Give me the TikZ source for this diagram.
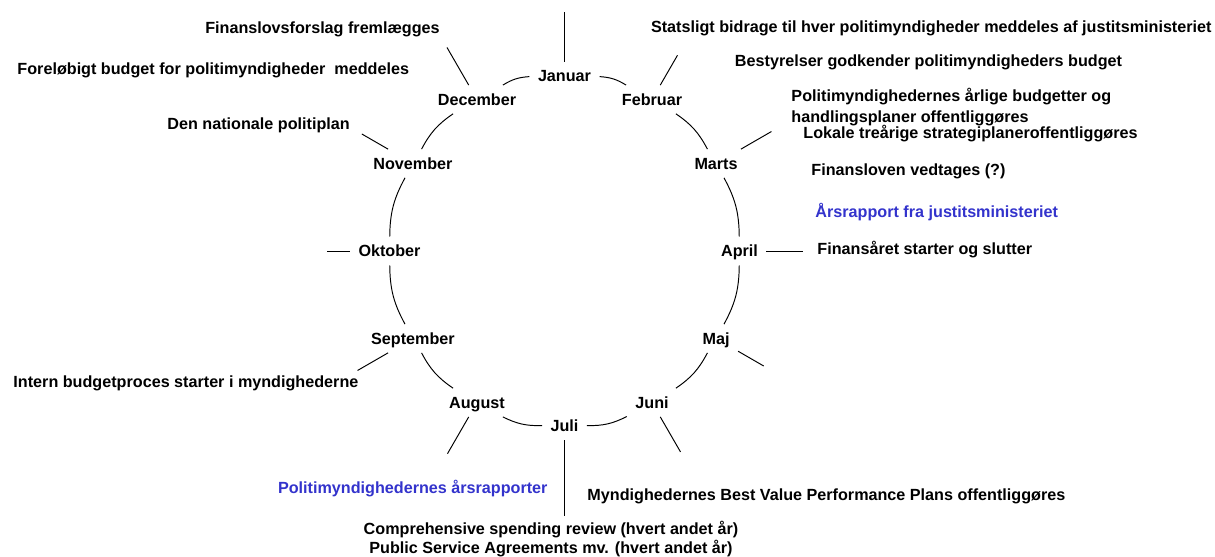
\documentclass[tikz,border=0pt]{standalone}
\usepackage{fontspec}
\setmainfont{Liberation Sans}
\definecolor{reportblue}{RGB}{51,51,204}
\begin{document}
\begin{tikzpicture}[x=0.02cm, y=-0.02cm, line width=0.55pt,
  every node/.style={font=\fontsize{9.2}{10.6}\selectfont\bfseries},
  month/.style={inner sep=4.6pt, text height=6.6pt, text depth=0pt},
  rim/.style={bend left=14},
  event/.style={inner sep=0pt},
  report/.style={event, text=reportblue}]
\useasboundingbox (0,0) rectangle (1215,557);
% Months round the year
\begin{scope}[shift={(564.5,251)}]
\foreach \m/\n [count=\i from 0] in {Januar/jan, Februar/feb, Marts/mar, April/apr, Maj/maj, Juni/jun, Juli/jul, August/aug, September/sep, Oktober/okt, November/nov, December/dec}
  \node[month] (\n) at (-90+30*\i:175) {\m};
% Spoke ends
\foreach \n/\r [count=\i from 0] in {jan/239, feb/226, mar/239, apr/238, maj/230, jun/232, jul/265, aug/234, sep/239, okt/238, nov/234, dec/235}
  \coordinate (\n-tip) at (-90+30*\i:\r);
\end{scope}
% Rim
\foreach \a/\b in {jan/feb, feb/mar, mar/apr, apr/maj, maj/jun, jun/jul, jul/aug, aug/sep, sep/okt, okt/nov, nov/dec, dec/jan}
  \draw (\a) to[rim] (\b);
% Spokes
\foreach \n in {jan, feb, mar, apr, maj, jun, jul, aug, sep, okt, nov, dec}
  \draw (\n) -- (\n-tip);
% Events
\node[event] (finforslag) at (322.5,29) {Finanslovsforslag fremlægges};
\node[event, anchor=west] (forelob) at (17,70) {Foreløbigt budget for politimyndigheder~ meddeles};
\node[event, anchor=west] (natplan) at (167,125) {Den nationale politiplan};
\node[event, anchor=west] (intern) at (13,383) {Intern budgetproces starter i myndighederne};
\node[report, anchor=east] (aarsrap) at (548,489) {Politimyndighedernes årsrapporter};
\node[event, align=center] (review) at (551,539) {Comprehensive spending review (hvert andet år)\\Public Service Agreements mv. (hvert andet år)};
\node[event, anchor=west] (bestvalue) at (587,496) {Myndighedernes Best Value Performance Plans offentliggøres};
\node[event, anchor=east] (statsligt) at (1212,28) {Statsligt bidrage til hver politimyndigheder meddeles af justitsministeriet};
\node[event, anchor=west] (bestyr) at (734.5,62) {Bestyrelser godkender politimyndigheders budget};
\node[event, anchor=west, align=left] (aarlige) at (791,107) {Politimyndighedernes årlige budgetter og\\[1pt]handlingsplaner offentliggøres};
\node[event, anchor=west] (lokale) at (803,134) {Lokale treårige strategiplaneroffentliggøres};
\node[event, anchor=west] (vedtag) at (811,171) {Finansloven vedtages (?)};
\node[report, anchor=west] (jmrap) at (815,212) {Årsrapport fra justitsministeriet};
\node[event, anchor=west] (finaar) at (817,250) {Finansåret starter og slutter};
\end{tikzpicture}
\end{document}
